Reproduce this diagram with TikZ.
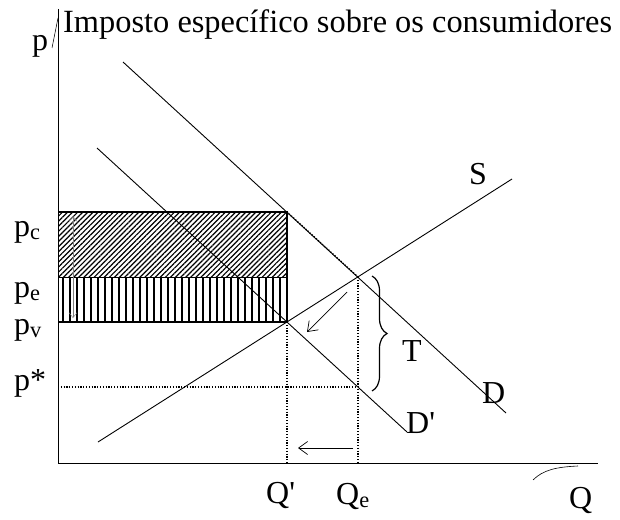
\documentclass[tikz,border=0pt]{standalone}
\usepackage{fontspec}
\setmainfont{Liberation Serif}
\usetikzlibrary{patterns,patterns.meta,decorations.pathreplacing,arrows.meta}
\newcommand{\sbx}[1]{\textsubscript{#1}}
\newcommand{\prm}{\textquotesingle}
\begin{document}
\begin{tikzpicture}[x=1pt,y=-1pt,
  lbl/.style={font=\fontsize{32}{36}\selectfont, inner sep=0pt, anchor=base west},
  ttl/.style={font=\fontsize{32.4}{36}\selectfont, inner sep=0pt, anchor=base west},
  curve/.style={line width=0.9pt},
  axis/.style={line width=1pt},
  guide/.style={line width=1.4pt, dash pattern=on 1.2pt off 1.6pt},
  arr/.style={line width=0.7pt, -{Straight Barb[length=9pt,width=13pt,line width=0.7pt]}},
  brace/.style={line width=1.2pt, decorate, decoration={brace, amplitude=15pt}}]
\useasboundingbox (0,0) rectangle (620,519);
% key points
\coordinate (O) at (58,463);
\coordinate (Ytop) at (58,9);
\coordinate (Xend) at (598,463);
\coordinate (E) at (358,277);
\coordinate (V) at (287,322);
\coordinate (C) at (287,212);
\coordinate (Ps) at (358,387);
\coordinate (Qp) at (287,463);
\coordinate (Qe) at (358,463);
% shaded areas
\fill[pattern={Lines[angle=45,distance=3.6pt,line width=1.2pt]}] (58,212) rectangle (287,277);
\fill[pattern={Lines[angle=90,distance=7pt,line width=1.8pt]}] (58,277) rectangle (287,322);
\draw[line width=1.1pt] (58,212) -- (C) -- (V) -- (58,322);
\draw[line width=0.8pt] (58,277) -- (287,277);
% inner small arrow
\draw[line width=0.4pt, gray, {Straight Barb[length=5pt,width=8pt]}-{Straight Barb[length=5pt,width=8pt]}] (73,216) -- (73,318);
% axes
\draw[axis] (Ytop) -- (O) -- (Xend);
\draw[line width=0.5pt] (52,48) -- (58,18);
\draw[line width=0.6pt] (533,480) .. controls (543,470) and (556,467) .. (578,466);
% guides
\draw[guide] (C) -- (E);
\draw[guide] (E) -- (Qe);
\draw[guide] (V) -- (Qp);
\draw[guide] (58,387) -- (Ps);
% curves
\coordinate (Ds) at (123,62);
\coordinate (De) at (506,413);
\coordinate (Dps) at (97,148);
\coordinate (Dpe) at (407,432);
\coordinate (Ss) at (98,442);
\coordinate (Se) at (512,179);
\draw[curve] (Ds) -- (De);
\draw[curve] (Dps) -- (Dpe);
\draw[curve] (Ss) -- (Se);
% arrows
\coordinate (a1) at (347,292);
\coordinate (a2) at (307,332);
\coordinate (b1) at (353,448);
\coordinate (b2) at (298,448);
\draw[arr] (a1) -- (a2);
\draw[arr] (b1) -- (b2);
% brace
\coordinate (t1) at (372,276);
\coordinate (t2) at (372,391);
\draw[brace] (t1) -- (t2);
% labels
\node[ttl] (title) at (63,33) {Imposto específico sobre os consumidores};
\node[lbl] (lp) at (32,51) {p};
\node[lbl] (lpc) at (14,236) {p\sbx{c}};
\node[lbl] (lpe) at (14,297) {p\sbx{e}};
\node[lbl] (lpv) at (14,334) {p\sbx{v}};
\node[lbl] (lps) at (14,390) {p*};
\node[lbl] (lQp) at (266,503) {Q\prm};
\node[lbl] (lQe) at (336,504) {Q\sbx{e}};
\node[lbl] (lQ) at (569,508) {Q};
\node[lbl] (lS) at (469,184) {S};
\node[lbl] (lD) at (482,403) {D};
\node[lbl] (lDp) at (406,433) {D\prm};
\node[lbl] (lT) at (402,361) {T};
\end{tikzpicture}
\end{document}
